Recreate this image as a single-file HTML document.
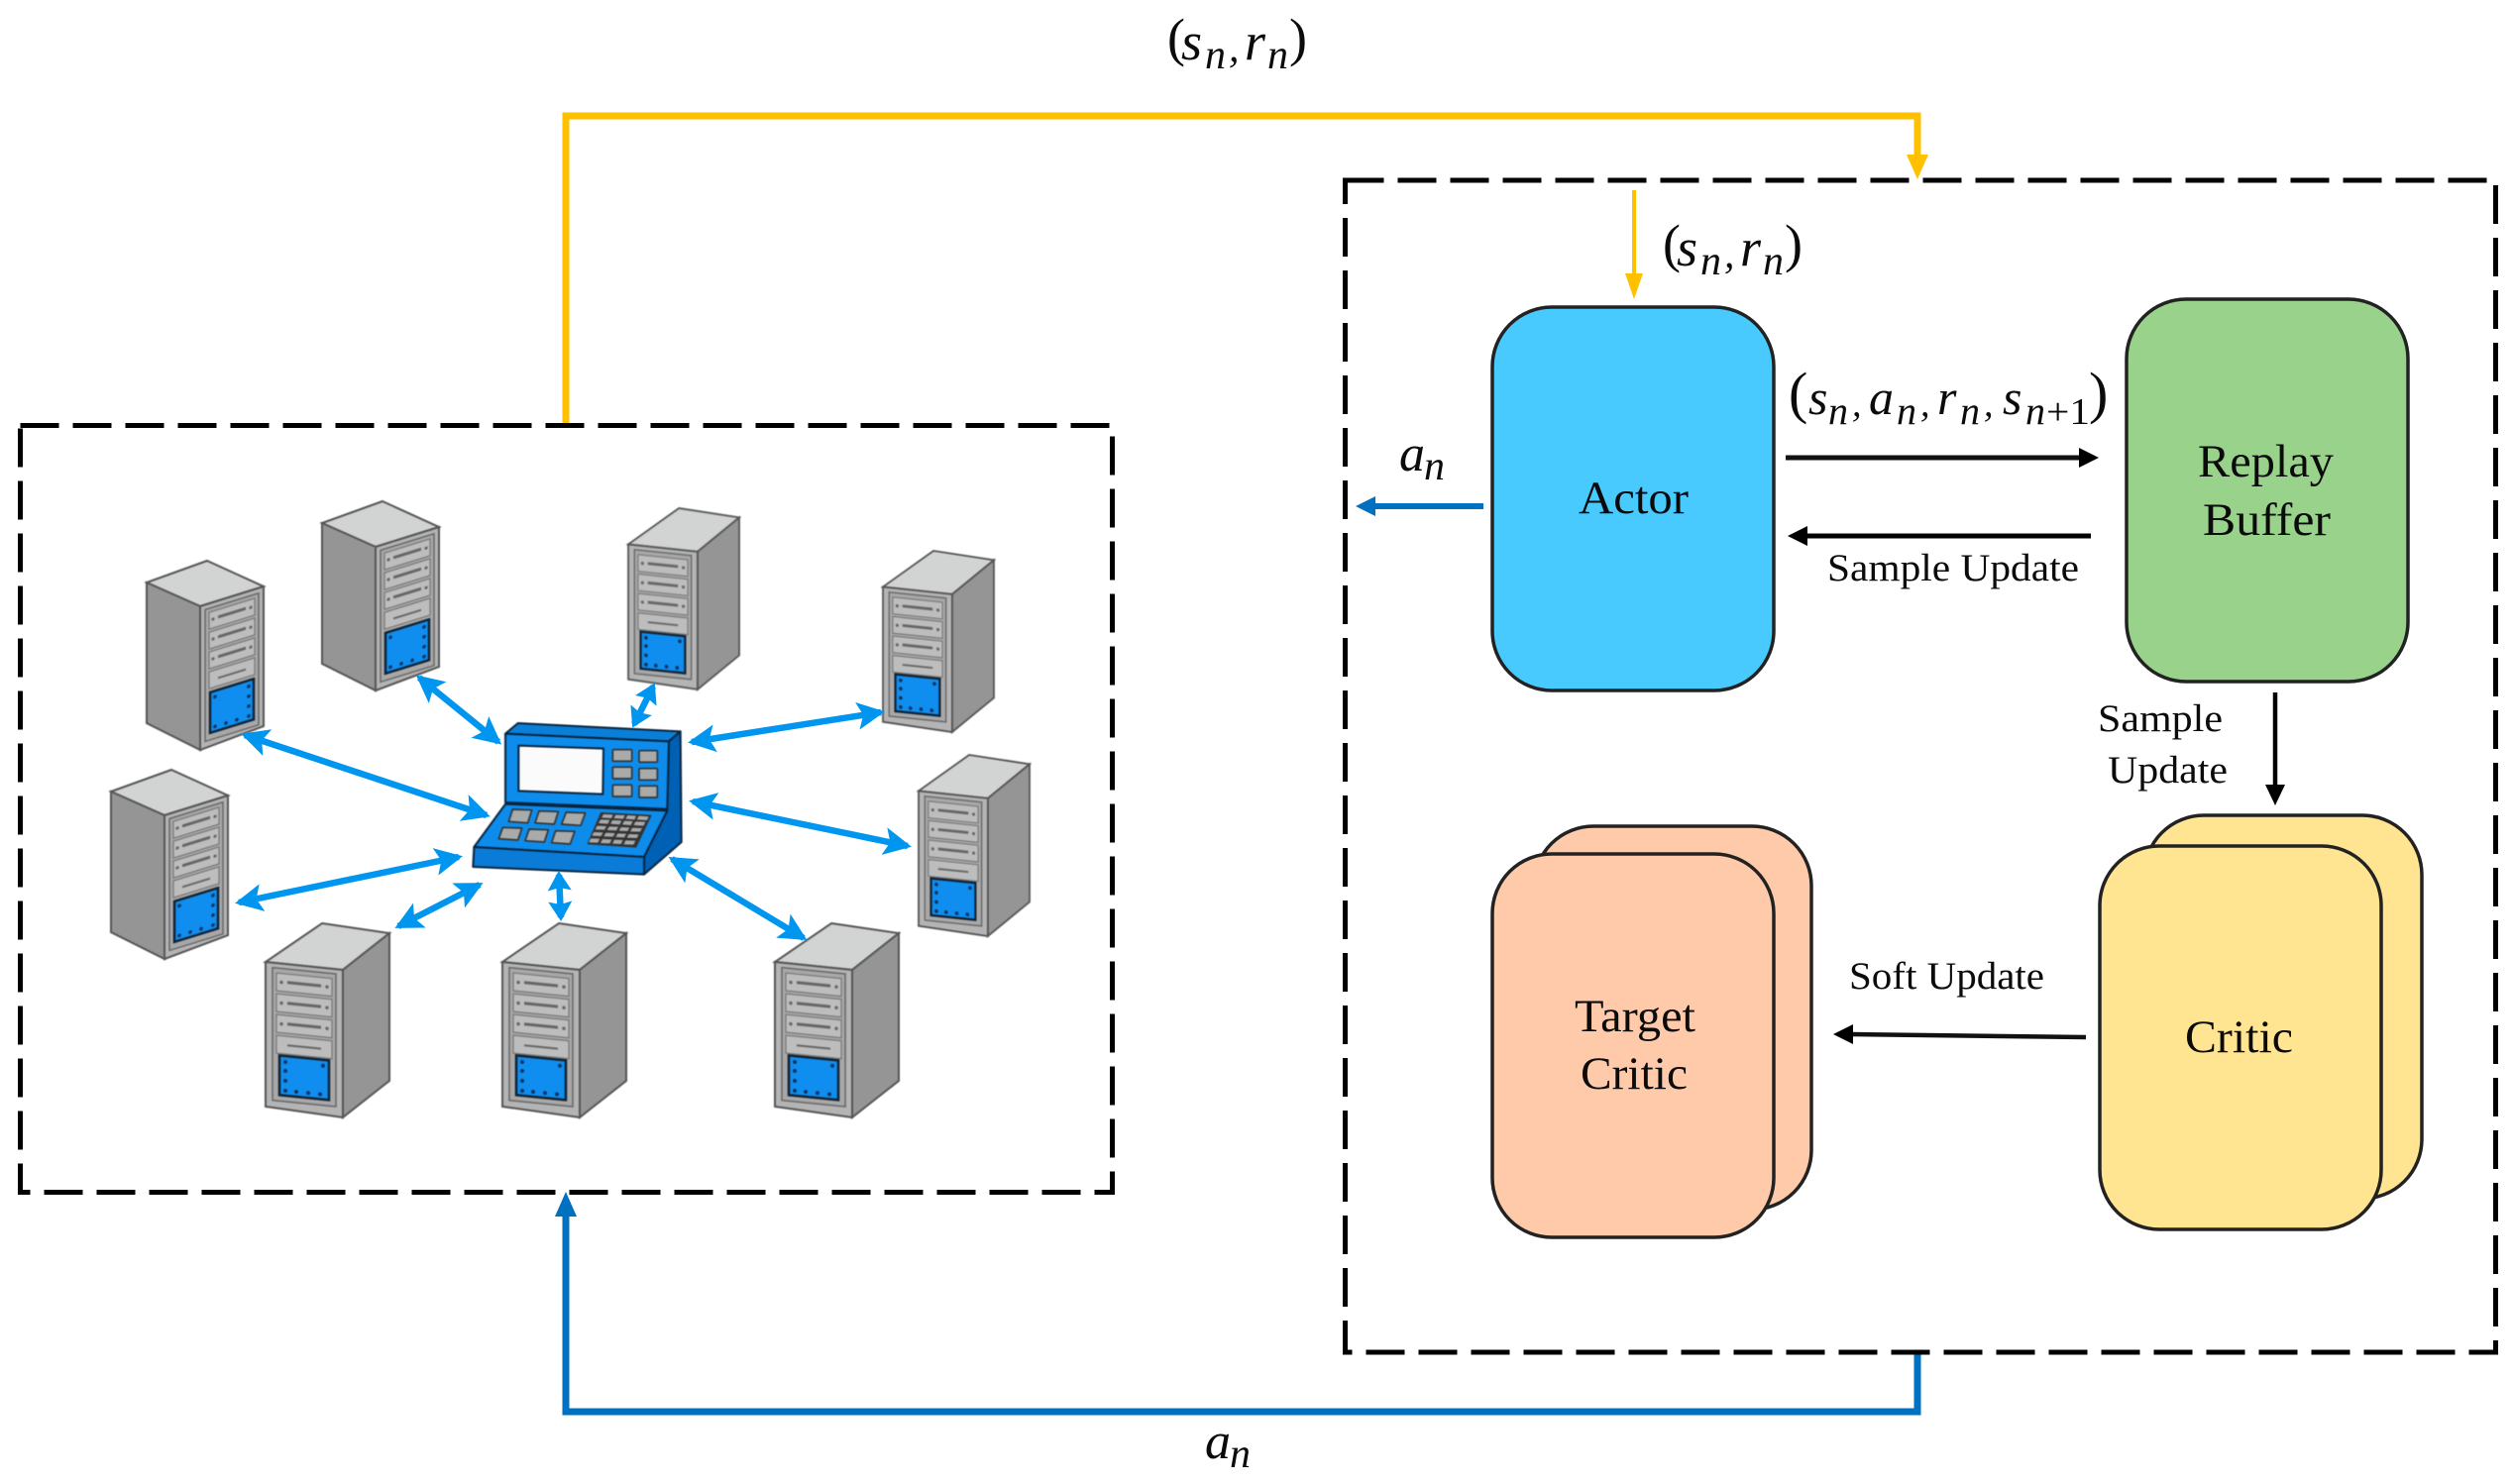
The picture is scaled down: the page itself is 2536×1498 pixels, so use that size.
<!DOCTYPE html>
<html><head><meta charset="utf-8"><title>Actor-Critic diagram</title>
<style>
html,body{margin:0;padding:0;background:#fff}
svg{display:block}
text{font-family:"Liberation Serif",serif;fill:#0b0b0b}
.m{font-style:italic}
</style></head><body>
<svg xmlns="http://www.w3.org/2000/svg" width="2536" height="1498" viewBox="0 0 2536 1498">
<defs>
<marker id="h" markerUnits="userSpaceOnUse" markerWidth="30" markerHeight="30" viewBox="0 -15 30 30" refX="24" refY="0" orient="auto-start-reverse">
<path d="M28,0 L0,-14 L6,0 L0,14Z" fill="#0096F0"/></marker>
<marker id="k" markerUnits="userSpaceOnUse" markerWidth="24" markerHeight="28" viewBox="0 -14 24 28" refX="16" refY="0" orient="auto-start-reverse">
<path d="M20,0 L0,-12 L3,0 L0,12Z" fill="#0096F0"/></marker>
<symbol id="sa" viewBox="0 0 118 191" overflow="visible" preserveAspectRatio="none">
<polygon points="61,0 118,26 54,46 0,22" fill="#d2d3d3" stroke="#555" stroke-width="2"/>
<polygon points="0,22 54,46 54,191 0,164" fill="#959595" stroke="#555" stroke-width="2"/>
<polygon points="54,46 118,26 118,167 54,191" fill="#b4b4b4" stroke="#555" stroke-width="2"/>
<g transform="matrix(1,-.31,0,1,54,46)">
<rect x="5" y="5" width="54" height="133" fill="#a8a8a8" stroke="#666" stroke-width="1.5"/>
<g fill="#bdbdbd" stroke="#777" stroke-width="1.2">
<rect x="9" y="9" width="46" height="17"/><rect x="9" y="29" width="46" height="17"/><rect x="9" y="49" width="46" height="17"/><rect x="9" y="69" width="46" height="17"/></g>
<g fill="#666"><rect x="18" y="15" width="28" height="3"/><rect x="18" y="35" width="28" height="3"/><rect x="18" y="55" width="28" height="3"/><rect x="18" y="77" width="28" height="2"/>
<circle cx="13" cy="17" r="1.6"/><circle cx="51" cy="17" r="1.6"/><circle cx="13" cy="37" r="1.6"/><circle cx="51" cy="37" r="1.6"/><circle cx="13" cy="57" r="1.6"/><circle cx="51" cy="57" r="1.6"/></g>
<rect x="10" y="90" width="44" height="41" fill="#0f8eef" stroke="#123" stroke-width="2.5"/>
<g fill="#12305a"><circle cx="15" cy="96" r="1.8"/><circle cx="49" cy="96" r="1.8"/><circle cx="49" cy="106" r="1.8"/><circle cx="49" cy="116" r="1.8"/><circle cx="49" cy="126" r="1.8"/><circle cx="15" cy="126" r="1.8"/><circle cx="26" cy="126" r="1.8"/><circle cx="37" cy="126" r="1.8"/></g>
</g>
</symbol>
<symbol id="sb" viewBox="0 0 125 196" overflow="visible" preserveAspectRatio="none">
<polygon points="57,0 125,10 78,47 0,39" fill="#d2d3d3" stroke="#555" stroke-width="2"/>
<polygon points="78,47 125,10 125,159 78,196" fill="#959595" stroke="#555" stroke-width="2"/>
<polygon points="0,39 78,47 78,196 0,185" fill="#b4b4b4" stroke="#555" stroke-width="2"/>
<g transform="matrix(1,.1,0,1,0,39)">
<rect x="7" y="5" width="64" height="134" fill="#a8a8a8" stroke="#666" stroke-width="1.5"/>
<g fill="#bdbdbd" stroke="#777" stroke-width="1.2">
<rect x="11" y="10" width="56" height="18"/><rect x="11" y="31" width="56" height="18"/><rect x="11" y="52" width="56" height="18"/><rect x="11" y="73" width="56" height="18"/></g>
<g fill="#666"><rect x="22" y="17" width="34" height="3"/><rect x="22" y="38" width="34" height="3"/><rect x="22" y="59" width="34" height="3"/><rect x="22" y="81" width="34" height="2"/>
<circle cx="16" cy="19" r="1.7"/><circle cx="62" cy="19" r="1.7"/><circle cx="16" cy="40" r="1.7"/><circle cx="62" cy="40" r="1.7"/><circle cx="16" cy="61" r="1.7"/><circle cx="62" cy="61" r="1.7"/></g>
<rect x="14" y="93" width="50" height="40" fill="#0f8eef" stroke="#123" stroke-width="2.5"/>
<g fill="#12305a"><circle cx="20" cy="99" r="2"/><circle cx="20" cy="108" r="2"/><circle cx="20" cy="118" r="2"/><circle cx="20" cy="128" r="2"/><circle cx="31" cy="128" r="2"/><circle cx="43" cy="128" r="2"/><circle cx="55" cy="128" r="2"/><circle cx="58" cy="99" r="2"/></g>
</g>
</symbol>
</defs>

<!-- connectors -->
<polyline points="571,429 571,117 1935,117 1935,160" fill="none" stroke="#FFC000" stroke-width="7"/>
<polygon points="1924,156 1946,156 1935,181" fill="#FFC000"/>
<polyline points="1935,1365 1935,1425 571,1425 571,1225" fill="none" stroke="#0070C0" stroke-width="7"/>
<polygon points="560,1228 582,1228 571,1203" fill="#0070C0"/>

<!-- dashed boxes -->
<rect x="20.5" y="429.5" width="1102" height="774" fill="none" stroke="#000" stroke-width="5" stroke-dasharray="39 14"/>
<rect x="1357.5" y="182" width="1161" height="1183" fill="none" stroke="#000" stroke-width="5" stroke-dasharray="39 14"/>

<!-- servers -->
<g style="filter:blur(.6px)">
<use href="#sa" x="148" y="566" width="118" height="191"/>
<use href="#sa" x="325" y="506" width="118" height="191"/>
<use href="#sa" x="112" y="777" width="118" height="191"/>
<use href="#sb" x="634" y="513" width="112" height="183"/>
<use href="#sb" x="891" y="556" width="112" height="183"/>
<use href="#sb" x="927" y="762" width="112" height="183"/>
<use href="#sb" x="268" y="932" width="125" height="196"/>
<use href="#sb" x="507" y="932" width="125" height="196"/>
<use href="#sb" x="782" y="932" width="125" height="196"/>

<!-- console -->
<g transform="translate(460,700) scale(.3333)" stroke="#06243f" stroke-width="6" stroke-linejoin="round">
<polygon points="150,122 188,90 680,115 645,145" fill="#0a7fd8"/>
<polygon points="645,145 680,115 683,450 570,548 570,495 640,355" fill="#0060b4"/>
<polygon points="150,122 645,145 640,350 150,330" fill="#0d8cec"/>
<polygon points="190,158 447,167 445,305 190,295" fill="#fbfbfb"/>
<polygon points="150,335 640,355 570,495 55,465" fill="#0d8cec"/>
<polygon points="55,465 570,495 570,548 52,525" fill="#0a7bd6"/>
<g fill="#a9abab" stroke="#333" stroke-width="5">
<rect x="475" y="170" width="58" height="35" rx="3"/><rect x="555" y="173" width="55" height="35" rx="3"/>
<rect x="475" y="223" width="58" height="35" rx="3"/><rect x="555" y="227" width="55" height="35" rx="3"/>
<rect x="475" y="277" width="58" height="35" rx="3"/><rect x="555" y="280" width="55" height="35" rx="3"/>
<polygon points="172,351 230,353 218,392 160,388"/><polygon points="252,356 310,358 298,396 240,392"/><polygon points="334,360 392,362 378,400 320,396"/>
<polygon points="142,406 200,408 188,444 130,440"/><polygon points="222,411 280,413 268,450 210,446"/><polygon points="302,416 360,418 346,456 290,452"/>
</g>
<polygon points="440,362 590,370 545,465 400,455" fill="#333" stroke="#333" stroke-width="4"/>
<g fill="#aaa" stroke="none">
<polygon points="447,366 476,367 471,378 441,376"/><polygon points="484,368 512,369 507,380 478,378"/><polygon points="520,369 546,371 541,382 514,380"/><polygon points="554,371 584,373 579,384 548,382"/>
<polygon points="438,382 466,383 460,395 432,393"/><polygon points="474,384 502,385 496,397 468,395"/><polygon points="510,386 536,387 530,399 504,397"/><polygon points="544,388 574,389 568,401 538,399"/>
<polygon points="428,401 456,402 450,413 422,412"/><polygon points="464,403 492,404 486,415 458,414"/><polygon points="500,405 526,406 520,417 494,416"/><polygon points="534,407 564,408 558,419 528,418"/>
<polygon points="418,420 446,421 440,432 412,431"/><polygon points="454,422 482,423 476,434 448,433"/><polygon points="490,424 516,425 510,436 484,435"/><polygon points="524,426 554,427 548,438 518,437"/>
<polygon points="408,439 436,440 430,452 403,451"/><polygon points="444,441 472,442 466,454 438,453"/><polygon points="480,443 506,444 500,456 474,455"/><polygon points="514,445 544,446 538,458 508,457"/>
</g>
</g>
</g>

<!-- double arrows -->
<g stroke="#0096F0" stroke-width="6.5" fill="none">
<line x1="423" y1="684" x2="503" y2="749" marker-start="url(#h)" marker-end="url(#h)"/>
<line x1="659" y1="693" x2="640" y2="731" marker-start="url(#k)" marker-end="url(#k)"/>
<line x1="698" y1="749" x2="889" y2="719" marker-start="url(#h)" marker-end="url(#h)"/>
<line x1="699" y1="809" x2="916" y2="854" marker-start="url(#h)" marker-end="url(#h)"/>
<line x1="678" y1="867" x2="811" y2="947" marker-start="url(#h)" marker-end="url(#h)"/>
<line x1="564" y1="883" x2="566" y2="926" marker-start="url(#k)" marker-end="url(#k)"/>
<line x1="484" y1="893" x2="402" y2="935" marker-start="url(#h)" marker-end="url(#h)"/>
<line x1="463" y1="865" x2="241" y2="911" marker-start="url(#h)" marker-end="url(#h)"/>
<line x1="491" y1="823" x2="247" y2="742" marker-start="url(#h)" marker-end="url(#h)"/>
</g>

<!-- boxes -->
<g stroke="#222" stroke-width="3.5">
<rect x="1506" y="310" width="284" height="387" rx="60" ry="60" fill="#48CAFF"/>
<rect x="2146" y="302" width="284" height="386" rx="60" ry="60" fill="#98D28B"/>
<rect x="1548" y="834" width="280" height="387" rx="60" ry="60" fill="#FFCAAA"/>
<rect x="1506" y="862" width="284" height="387" rx="60" ry="60" fill="#FFCAAA"/>
<rect x="2164" y="823" width="280" height="387" rx="60" ry="60" fill="#FFE592"/>
<rect x="2119" y="854" width="284" height="387" rx="60" ry="60" fill="#FFE592"/>
</g>

<!-- inner arrows -->
<line x1="1649" y1="192" x2="1649" y2="280" stroke="#FFC000" stroke-width="4"/>
<polygon points="1640,276 1658,276 1649,302" fill="#FFC000"/>
<line x1="1497" y1="511" x2="1385" y2="511" stroke="#0070C0" stroke-width="6"/>
<polygon points="1388,501 1388,521 1368,511" fill="#0070C0"/>
<line x1="1802" y1="462" x2="2100" y2="462" stroke="#111" stroke-width="5"/>
<polygon points="2098,452 2098,472 2118,462" fill="#000"/>
<line x1="2110" y1="541" x2="1820" y2="541" stroke="#000" stroke-width="5"/>
<polygon points="1824,531 1824,551 1804,541" fill="#000"/>
<line x1="2105" y1="1047" x2="1868" y2="1044" stroke="#111" stroke-width="4.5"/>
<polygon points="1870,1034 1870,1054 1850,1044" fill="#000"/>
<line x1="2296" y1="699" x2="2296" y2="795" stroke="#000" stroke-width="4.5"/>
<polygon points="2286,792 2306,792 2296,813" fill="#000"/>

<!-- text labels -->
<g font-size="47">
<text x="1593" y="518" textLength="111" lengthAdjust="spacingAndGlyphs">Actor</text>
<text x="2218" y="481" textLength="137" lengthAdjust="spacingAndGlyphs">Replay</text>
<text x="2223" y="540" textLength="129" lengthAdjust="spacingAndGlyphs">Buffer</text>
<text x="1589" y="1041" textLength="122" lengthAdjust="spacingAndGlyphs">Target</text>
<text x="1595" y="1099" textLength="108" lengthAdjust="spacingAndGlyphs">Critic</text>
<text x="2205" y="1062" textLength="109" lengthAdjust="spacingAndGlyphs">Critic</text>
</g>
<g font-size="39">
<text x="1844" y="586" textLength="254" lengthAdjust="spacingAndGlyphs">Sample Update</text>
<text x="2117" y="738" textLength="126" lengthAdjust="spacingAndGlyphs">Sample</text>
<text x="2127" y="790" textLength="121" lengthAdjust="spacingAndGlyphs">Update</text>
<text x="1866" y="998" textLength="197" lengthAdjust="spacingAndGlyphs">Soft Update</text>
</g>

<!-- math: (s_n, r_n) top -->
<g>
<text x="1178" y="56" font-size="54">(</text>
<text class="m" x="1192" y="60" font-size="54">s</text>
<text class="m" x="1216" y="69" font-size="42">n</text>
<text class="m" x="1240" y="62" font-size="42">,</text>
<text class="m" x="1256" y="60" font-size="54">r</text>
<text class="m" x="1279" y="69" font-size="42">n</text>
<text x="1301" y="56" font-size="54">)</text>
</g>
<g transform="translate(500,208)">
<text x="1178" y="56" font-size="54">(</text>
<text class="m" x="1192" y="60" font-size="54">s</text>
<text class="m" x="1216" y="69" font-size="42">n</text>
<text class="m" x="1240" y="62" font-size="42">,</text>
<text class="m" x="1256" y="60" font-size="54">r</text>
<text class="m" x="1279" y="69" font-size="42">n</text>
<text x="1301" y="56" font-size="54">)</text>
</g>
<!-- (s_n,a_n,r_n,s_n+1) -->
<text x="1805" y="416" font-size="58">(</text>
<text class="m" x="1825" y="418" font-size="50">s</text>
<text class="m" x="1845" y="428" font-size="40">n</text>
<text class="m" x="1869" y="420" font-size="38">,</text>
<text class="m" x="1886" y="418" font-size="50">a</text>
<text class="m" x="1914" y="428" font-size="40">n</text>
<text class="m" x="1938" y="420" font-size="38">,</text>
<text class="m" x="1955" y="418" font-size="50">r</text>
<text class="m" x="1978" y="428" font-size="40">n</text>
<text class="m" x="2002" y="420" font-size="38">,</text>
<text class="m" x="2021" y="418" font-size="50">s</text>
<text class="m" x="2044" y="428" font-size="40">n</text>
<text x="2065" y="428" font-size="38" textLength="44" lengthAdjust="spacingAndGlyphs">+1</text>
<text x="2108" y="416" font-size="58">)</text>
<!-- a_n -->
<text class="m" x="1412" y="475" font-size="52">a</text>
<text class="m" x="1437" y="484" font-size="42">n</text>
<text class="m" x="1216" y="1472" font-size="52">a</text>
<text class="m" x="1241" y="1481" font-size="42">n</text>
</svg>
</body></html>
